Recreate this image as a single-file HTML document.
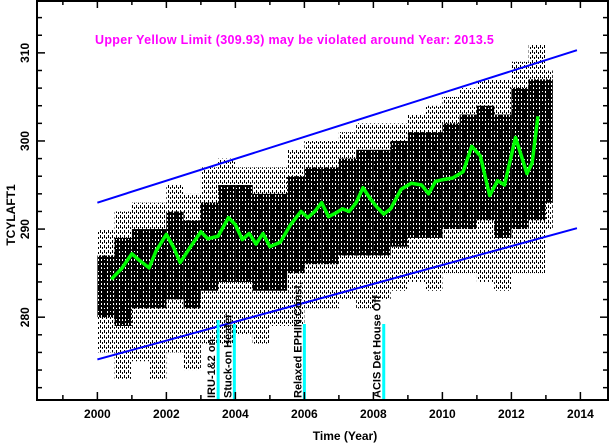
<!DOCTYPE html>
<html><head><meta charset="utf-8"><style>
html,body{margin:0;padding:0;background:#fff;}
svg{display:block;font-family:"Liberation Sans",sans-serif;}
</style></head><body>
<svg id="chart" width="610" height="444" xmlns="http://www.w3.org/2000/svg">
<defs>
<pattern id="stip" width="4" height="5" patternUnits="userSpaceOnUse">
<rect x="0" y="0" width="1" height="3" fill="#000"/>
<rect x="2" y="2" width="1" height="2" fill="#000"/>
</pattern>
<pattern id="core" width="3" height="4" patternUnits="userSpaceOnUse">
<rect x="0" y="0" width="2" height="4" fill="#000"/>
<rect x="2" y="1" width="1" height="2" fill="#000"/>
</pattern>
</defs>
<g id="cloud"></g>
<g id="marks"></g>
<text x="95" y="44" fill="#ff00ff" font-size="12.5" font-weight="bold" letter-spacing="0.3">Upper Yellow  Limit (309.93) may be violated around Year: 2013.5</text>
<text transform="translate(15,215) rotate(-90)" text-anchor="middle" font-size="12" font-weight="bold">TCYLAFT1</text>
<text x="345" y="440" text-anchor="middle" font-size="12" font-weight="bold">Time (Year)</text>
</svg>
<script>
const binYears=[2000,2000.5,2001,2001.5,2002,2002.5,2003,2003.5,2004,2004.5,2005,2005.5,2006,2006.5,2007,2007.5,2008,2008.5,2009,2009.5,2010,2010.5,2011,2011.5,2012,2012.5,2013];
const coreLo=[280,279,281,281,282,281,283,284,284,283,283,285,286,286,287,287,287,288,289,289,290,290,291,289,290,291,293];
const coreHi=[287,289,290,290,292,291,293,295,295,294,294,296,297,297,298,299,299,300,301,301,302,303,304,303,306,307,307];
const extLo=[276,273,275,273,276,274,277,277,278,277,279,279,281,281,282,281,282,283,284,283,285,285,284,283,285,285,290];
const extHi=[290,292,293,293,295,294,297,298,297,297,297,299,300,300,301,302,302,302,303,304,305,306,307,307,309,311,308];
const smoothYears=[2000.4,2000.7,2001.0,2001.2,2001.5,2001.7,2002.0,2002.2,2002.4,2002.7,2003.0,2003.2,2003.5,2003.8,2004.0,2004.2,2004.4,2004.6,2004.8,2005.0,2005.3,2005.6,2005.9,2006.1,2006.3,2006.5,2006.7,2006.9,2007.1,2007.3,2007.5,2007.7,2007.9,2008.1,2008.3,2008.5,2008.8,2009.1,2009.4,2009.6,2009.8,2010.0,2010.3,2010.6,2010.85,2011.1,2011.37,2011.6,2011.8,2012.12,2012.45,2012.6,2012.77];
const smoothVals=[284.3,285.5,287.2,286.5,285.6,287.5,289.4,288.0,286.2,288.0,289.7,288.9,289.2,291.3,290.5,288.8,289.5,288.3,289.5,288.0,288.5,290.5,292.0,291.3,292.0,293.0,291.4,291.8,292.3,292.0,293.0,294.7,293.5,292.5,291.7,292.3,294.5,295.2,295.0,294.0,295.4,295.6,295.8,296.5,299.4,298.3,293.8,295.5,295.0,300.4,296.3,297.5,302.8];
const upperLimitYears=[2000,2013.9];
const upperLimitVals=[293.0,310.3];
const lowerLimitYears=[2000,2013.9];
const lowerLimitVals=[275.2,290.1];
const eventYears=[2003.5,2003.97,2006.0,2008.3];
const eventLabels=["IRU-1&2 on","Stuck-on Heater","Relaxed EPHIN Const.","ACIS Det House Off"];
const yTicks=[280,290,300,310];
const xTicks=[2000,2002,2004,2006,2008,2010,2012,2014];
const dataEndYear=2013.2;

const L=37,R=608,T=0,B=400;
const xMin=1998.25,xMax=2014.8,yMin=270.6,yMax=316.0;
const X=v=>L+(v-xMin)/(xMax-xMin)*(R-L);
const Y=v=>B-(v-yMin)/(yMax-yMin)*(B-T);
const NS="http://www.w3.org/2000/svg";
const cloud=document.getElementById('cloud');
const marks=document.getElementById('marks');
function mk(tag,attrs,parent){const e=document.createElementNS(NS,tag);for(const k in attrs)e.setAttribute(k,attrs[k]);parent.appendChild(e);return e;}

binYears.forEach((yr,i)=>{
  const x0=X(yr);
  const x1=X(Math.min(yr+0.5,dataEndYear));
  const a=mk('rect',{x:x0,y:Y(extHi[i]),width:x1-x0,height:Y(extLo[i])-Y(extHi[i]),fill:'url(#stip)'},cloud);
  
  
  const c=mk('rect',{x:x0,y:Y(coreHi[i]),width:x1-x0,height:Y(coreLo[i])-Y(coreHi[i]),fill:'url(#core)'},cloud);
  
  
});

function line(xs,ys,color,w,name){
  const p=mk('polyline',{points:xs.map((x,i)=>X(x)+','+Y(ys[i])).join(' '),fill:'none',stroke:color,'stroke-width':w,'stroke-linejoin':'round'},marks);
  
  
}
line(upperLimitYears,upperLimitVals,'#0000ff',2,'upper-trend-limit');
line(lowerLimitYears,lowerLimitVals,'#0000ff',2,'lower-trend-limit');
line(smoothYears,smoothVals,'#00ff00',3.5,'smoothed-fit-line');

eventYears.forEach((yr,i)=>{
  const x=X(yr);
  const l=mk('line',{x1:x,x2:x,y1:i==0?320:324,y2:B,stroke:'#00ffff','stroke-width':3},marks);
  
  
  const t=mk('text',{transform:`translate(${x-3},${B-2}) rotate(-90)`,'font-size':'11','font-weight':'bold'},marks);
  t.textContent=eventLabels[i];
  
  
});

const f=mk('rect',{x:L,y:T+1,width:R-L,height:B-T-1,fill:'none',stroke:'#000','stroke-width':2},marks);


for(let v=272;v<=316;v+=2){
  const y=Y(v),big=v%10==0;
  mk('line',{x1:L,x2:L+(big?8:5),y1:y,y2:y,stroke:'#000','stroke-width':1.5},marks);
  mk('line',{x1:R,x2:R-(big?8:5),y1:y,y2:y,stroke:'#000','stroke-width':1.5},marks);
}
yTicks.forEach(v=>{
  const t=mk('text',{transform:`translate(29,${Y(v)}) rotate(-90)`,'text-anchor':'middle','font-size':'12','font-weight':'bold'},marks);
  t.textContent=v;
  
  
});
for(let v=1999;v<=2014;v++){
  const x=X(v),big=v%2==0;
  mk('line',{x1:x,x2:x,y1:B,y2:B-(big?8:5),stroke:'#000','stroke-width':1.5},marks);
  mk('line',{x1:x,x2:x,y1:T,y2:T+(big?8:5),stroke:'#000','stroke-width':1.5},marks);
}
xTicks.forEach(v=>{
  const t=mk('text',{x:X(v),y:418,'text-anchor':'middle','font-size':'12','font-weight':'bold'},marks);
  t.textContent=v;
  
  
});
</script>
</body></html>
